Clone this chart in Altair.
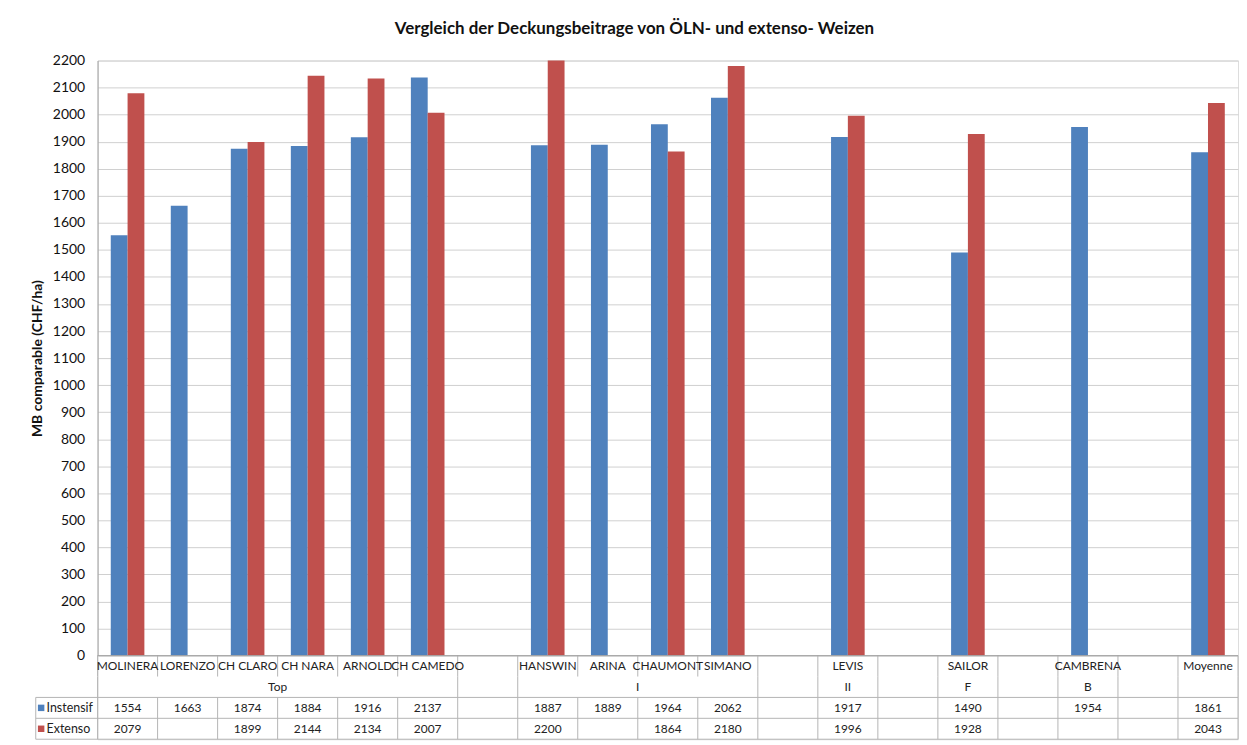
import altair as alt
import pandas as pd

# ---------------- data ----------------
slots = ["MOLINERA", "LORENZO", "CH CLARO", "CH NARA", "ARNOLD", "CH CAMEDO", "",
         "HANSWIN", "ARINA", "CHAUMONT", "SIMANO", "", "LEVIS", "", "SAILOR", "",
         "CAMBRENA", "", "Moyenne"]
groups = ["Top"] * 6 + ["I"] * 6 + ["II", "", "F", "", "B", "", ""]
intensif = [1554, 1663, 1874, 1884, 1916, 2137, None, 1887, 1889, 1964, 2062, None,
            1917, None, 1490, None, 1954, None, 1861]
extenso = [2079, None, 1899, 2144, 2134, 2007, None, 2200, None, 1864, 2180, None,
           1996, None, 1928, None, None, None, 2043]
series_names = ["Instensif", "Extenso"]
series_colors = ["#4F81BD", "#C0504D"]
y_ticks = list(range(0, 2201, 100))
group_row_breaks = [0, 6, 7, 11, 12, 13, 14, 15, 16, 17, 18, 19]
title_text = "Vergleich der Deckungsbeitrage von ÖLN- und extenso- Weizen"
y_title = "MB comparable (CHF/ha)"

FONT = "Lato"
W, H1, H2 = 1146, 598, 84
GRID = "#D0D0D0"
LINE = "#B4B4B4"
AXIS = "#A0A0A0"

n = len(slots)
keys = [f"{i:02d}" for i in range(n)]

# ---------------- bars ----------------
rows = []
for i in range(n):
    for s, vals in zip(series_names, [intensif, extenso]):
        if vals[i] is not None:
            rows.append({"key": keys[i], "series": s, "value": vals[i]})
bar_df = pd.DataFrame(rows)

bars = alt.Chart(bar_df).mark_bar().encode(
    x=alt.X("key:O",
            scale=alt.Scale(domain=keys, paddingInner=0.44, paddingOuter=0.22),
            axis=None),
    xOffset=alt.XOffset("series:N",
                        scale=alt.Scale(domain=series_names, paddingInner=0, paddingOuter=0)),
    y=alt.Y("value:Q",
            scale=alt.Scale(domain=[0, 2200], nice=False, zero=True),
            axis=alt.Axis(values=y_ticks, format="d", title=y_title, grid=True, gridColor=GRID,
                          ticks=False, domain=True, domainColor=AXIS,
                          labelFontSize=14, labelColor="#111111", labelPadding=13,
                          titleFontSize=14, titleFontWeight="bold", titleColor="#111111",
                          titlePadding=8)),
    color=alt.Color("series:N", scale=alt.Scale(domain=series_names, range=series_colors),
                    legend=None),
).properties(width=W, height=H1)

# ---------------- data table ----------------
txt = []
for i in range(n):
    if slots[i]:
        txt.append({"x": i + 0.5, "y": 0.5, "t": slots[i]})
    for r, vals in enumerate([intensif, extenso]):
        if vals[i] is not None:
            txt.append({"x": i + 0.5, "y": 2.5 + r, "t": str(vals[i])})
# group labels centred on their span
i = 0
while i < n:
    g = groups[i]
    j = i
    while j + 1 < n and groups[j + 1] == g:
        j += 1
    if g:
        txt.append({"x": (i + j + 1) / 2, "y": 1.5, "t": g})
    i = j + 1
txt_df = pd.DataFrame(txt)

hdr_df = pd.DataFrame({"y": [2.5, 3.5], "t": series_names, "series": series_names,
                       "xs": [-0.94, -0.94], "xt": [-0.85, -0.85]})

vsegs = []
for b in range(n + 1):
    vsegs.append({"x": b, "y": 0, "y2": 1})
    vsegs.append({"x": b, "y": 2, "y2": 4})
for b in group_row_breaks:
    vsegs.append({"x": b, "y": 1, "y2": 2})
vsegs.append({"x": -1.03, "y": 2, "y2": 4})
vseg_df = pd.DataFrame(vsegs)
hseg_df = pd.DataFrame({"x": [-1.03, -1.03, -1.03], "x2": [n, n, n], "y": [2, 3, 4]})
zero_df = pd.DataFrame({"x": [0], "x2": [n], "y": [0]})

xs = alt.Scale(domain=[0, n], nice=False, zero=False)
ys = alt.Scale(domain=[0, 4], reverse=True, nice=False, zero=False)

texts = alt.Chart(txt_df).mark_text(font=FONT, fontSize=12, color="#222222",
                                    baseline="middle").encode(
    x=alt.X("x:Q", scale=xs, axis=None),
    y=alt.Y("y:Q", scale=ys, axis=None),
    text="t:N",
)
vlines = alt.Chart(vseg_df).mark_rule(color=LINE, strokeWidth=1).encode(
    x=alt.X("x:Q", scale=xs, axis=None),
    y=alt.Y("y:Q", scale=ys, axis=None),
    y2="y2:Q",
)
hlines = alt.Chart(hseg_df).mark_rule(color=LINE, strokeWidth=1).encode(
    x=alt.X("x:Q", scale=xs, axis=None),
    x2="x2:Q",
    y=alt.Y("y:Q", scale=ys, axis=None),
)
zline = alt.Chart(zero_df).mark_rule(color=AXIS, strokeWidth=1).encode(
    x=alt.X("x:Q", scale=xs, axis=None),
    x2="x2:Q",
    y=alt.Y("y:Q", scale=ys, axis=None),
)
hdr_sq = alt.Chart(hdr_df).mark_square(size=42, opacity=1).encode(
    x=alt.X("xs:Q", scale=xs, axis=None),
    y=alt.Y("y:Q", scale=ys, axis=None),
    color=alt.Color("series:N", scale=alt.Scale(domain=series_names, range=series_colors),
                    legend=None),
)
hdr_txt = alt.Chart(hdr_df).mark_text(font=FONT, fontSize=12.5, color="#222222",
                                      align="left", baseline="middle").encode(
    x=alt.X("xt:Q", scale=xs, axis=None),
    y=alt.Y("y:Q", scale=ys, axis=None),
    text="t:N",
)
table = alt.layer(vlines, hlines, zline, texts, hdr_sq, hdr_txt).properties(width=W, height=H2)

chart = alt.vconcat(bars, table, spacing=0, bounds="flush").properties(
    title=alt.TitleParams(title_text, fontSize=17, fontWeight="bold", font=FONT,
                          color="#111111", anchor="middle", frame="bounds", offset=15),
    padding={"left": 22, "top": 10, "right": 0, "bottom": 0},
).configure_view(stroke=None).configure(font=FONT).configure_axis(
    labelFont=FONT, titleFont=FONT)

chart.save("out.html", embed_options={"renderer": "svg", "actions": False})
